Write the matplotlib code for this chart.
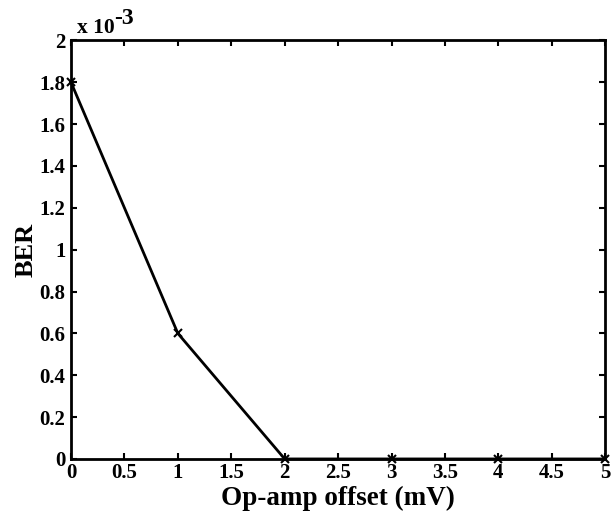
import matplotlib.pyplot as plt
from matplotlib.ticker import FuncFormatter

# dados
offset_mv = [0, 1, 2, 3, 4, 5]
ber = [1.8e-3, 0.6e-3, 0.0, 0.0, 0.0, 0.0]

plt.rcParams.update({
    'font.family': 'Liberation Serif',
    'font.weight': 'bold',
    'xtick.direction': 'in',
    'ytick.direction': 'in',
    'xtick.top': True,
    'ytick.right': True,
})

fig = plt.figure(figsize=(6.12, 5.18), dpi=100)
ax = fig.add_axes([0.116, 0.114, 0.873, 0.808])

ax.plot(offset_mv, ber, '-x', color='black', linewidth=2, markersize=6,
        markeredgewidth=1.5, clip_on=False, zorder=5)

ax.set_xlim(0, 5)
ax.set_ylim(0, 2e-3)
ax.set_xticks([0, 0.5, 1, 1.5, 2, 2.5, 3, 3.5, 4, 4.5, 5])
ax.set_yticks([i * 0.2e-3 for i in range(11)])
ax.xaxis.set_major_formatter(FuncFormatter(lambda v, p: f'{v:g}'))
ax.yaxis.set_major_formatter(FuncFormatter(lambda v, p: f'{round(v * 1e3, 1):g}'))
ax.tick_params(labelsize=15, length=4, width=1.5, pad=3)
ax.tick_params(axis='y', pad=4)
for s in ax.spines.values():
    s.set_linewidth(2)

# fator de escala no canto superior esquerdo (estilo MATLAB)
t = ax.text(0.011, 1.017, 'x 10', transform=ax.transAxes,
            fontsize=15.5, fontweight='bold', ha='left', va='baseline')
ax.annotate('-3', xy=(1, 0), xycoords=t, xytext=(0, 10),
            textcoords='offset points', fontsize=17, fontweight='bold',
            ha='left', va='baseline')

ax.set_xlabel('Op-amp offset (mV)', fontsize=19.5, fontweight='bold', labelpad=2)
ax.set_ylabel('BER', fontsize=19, fontweight='bold', labelpad=1)

fig.savefig('out.png', dpi=100)
